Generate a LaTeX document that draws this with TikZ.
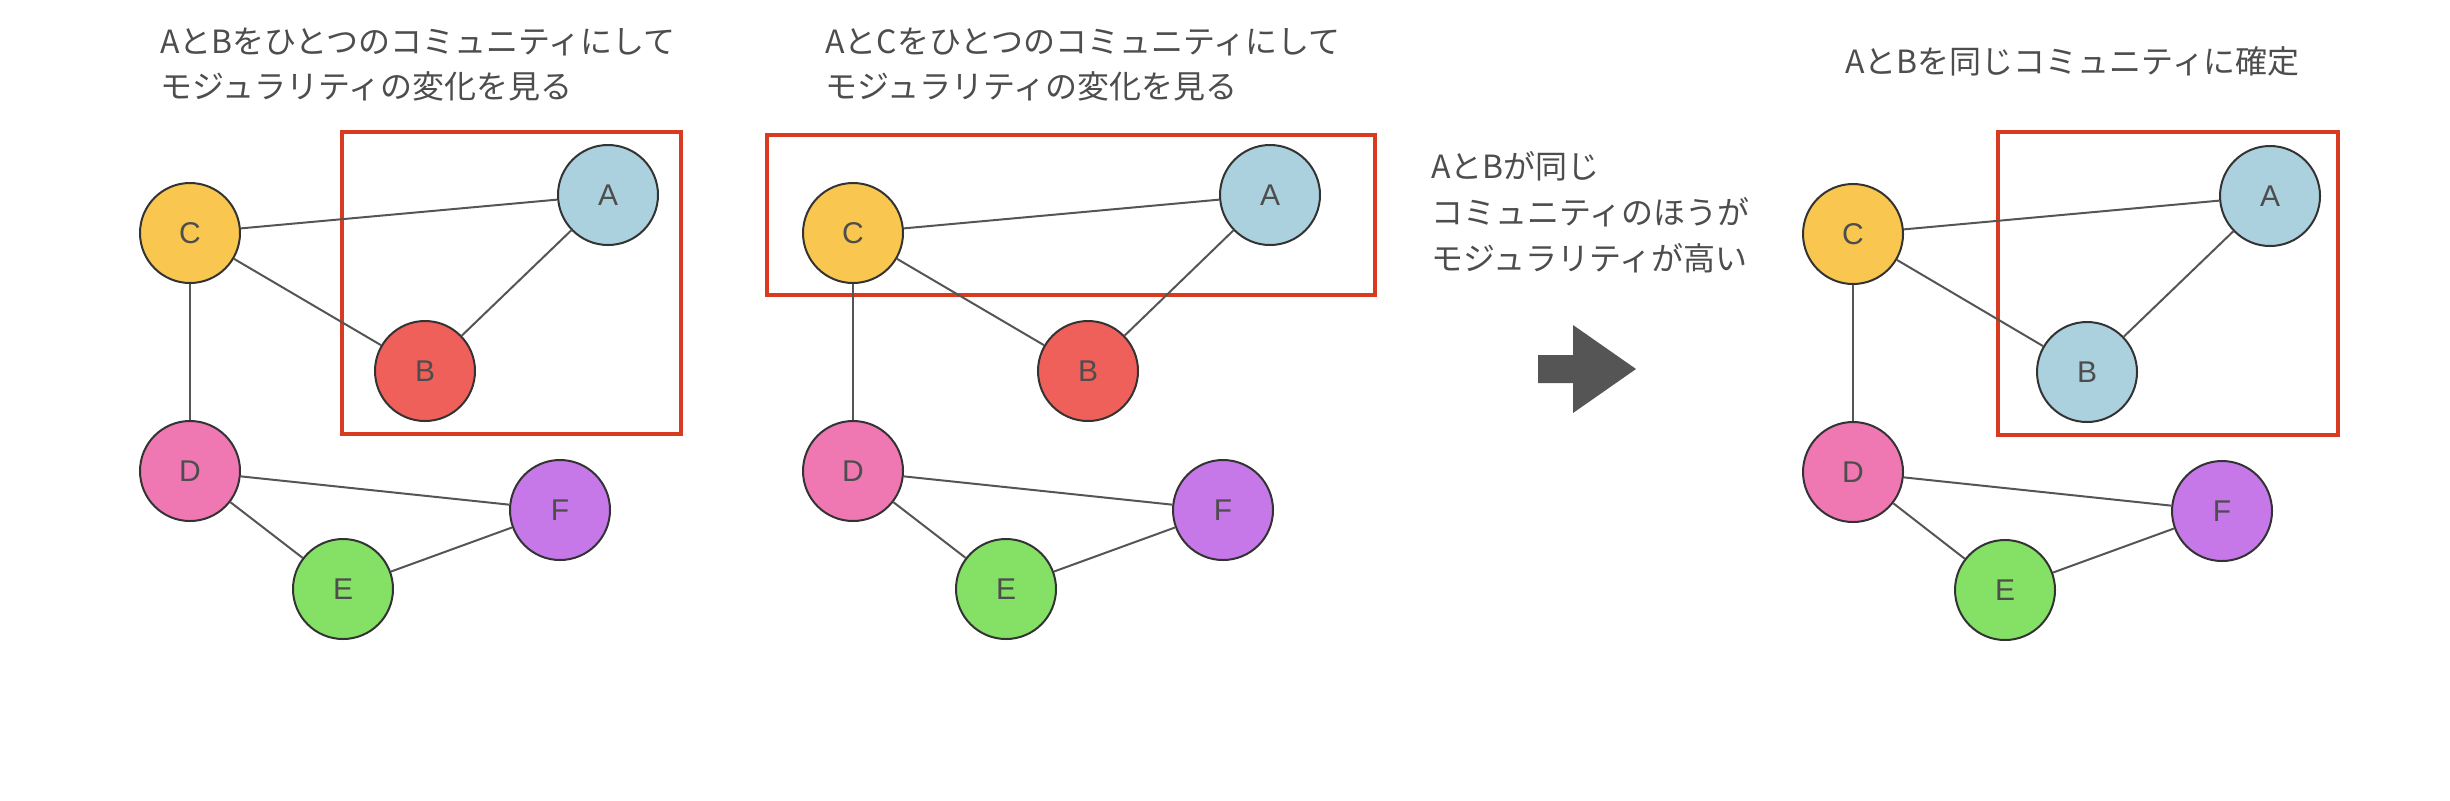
\documentclass[tikz,border=0pt]{standalone}
\usepackage{fontspec}
\setmainfont{Liberation Sans}
\newfontfamily\jpfont{Noto Sans CJK JP}
\definecolor{textgray}{HTML}{4D4D4D}
\definecolor{strokegray}{HTML}{333333}
\definecolor{linkgray}{HTML}{555555}
\definecolor{boxred}{HTML}{D93B20}
\definecolor{nodeA}{HTML}{ABD1DE}
\definecolor{nodeB}{HTML}{F0605A}
\definecolor{nodeC}{HTML}{F9C74F}
\definecolor{nodeD}{HTML}{EF78B3}
\definecolor{nodeE}{HTML}{85E066}
\definecolor{nodeF}{HTML}{C678E8}

\begin{document}
\begin{tikzpicture}[x=0.5pt,y=-0.5pt,vertex/.style={circle,draw=strokegray,line width=1pt,minimum size=50pt,inner sep=0pt,text=textgray,font=\fontsize{15}{18}\selectfont},link/.style={draw=linkgray,line width=1pt},community/.style={draw=boxred,line width=2pt},caption/.style={anchor=base west,align=left,inner sep=0pt,text=textgray,font=\jpfont\fontsize{16}{22.5}\selectfont}]
\useasboundingbox (0,0) rectangle (2450,800);

\node[caption] (title1) at (160,98) {AとBをひとつのコミュニティにして\\モジュラリティの変化を見る};
\draw[community] (342,132) rectangle (681,434);
\node[vertex,fill=nodeA] (a1) at (608,195) {A};
\node[vertex,fill=nodeB] (b1) at (425,371) {B};
\node[vertex,fill=nodeC] (c1) at (190,233) {C};
\node[vertex,fill=nodeD] (d1) at (190,471) {D};
\node[vertex,fill=nodeE] (e1) at (343,589) {E};
\node[vertex,fill=nodeF] (f1) at (560,510) {F};
\draw[link] (c1) -- (a1);
\draw[link] (c1) -- (b1);
\draw[link] (a1) -- (b1);
\draw[link] (c1) -- (d1);
\draw[link] (d1) -- (f1);
\draw[link] (d1) -- (e1);
\draw[link] (e1) -- (f1);

\node[caption] (title2) at (825,98) {AとCをひとつのコミュニティにして\\モジュラリティの変化を見る};
\draw[community] (767,135) rectangle (1375,295);
\node[vertex,fill=nodeA] (a2) at (1270,195) {A};
\node[vertex,fill=nodeB] (b2) at (1088,371) {B};
\node[vertex,fill=nodeC] (c2) at (853,233) {C};
\node[vertex,fill=nodeD] (d2) at (853,471) {D};
\node[vertex,fill=nodeE] (e2) at (1006,589) {E};
\node[vertex,fill=nodeF] (f2) at (1223,510) {F};
\draw[link] (c2) -- (a2);
\draw[link] (c2) -- (b2);
\draw[link] (a2) -- (b2);
\draw[link] (c2) -- (d2);
\draw[link] (d2) -- (f2);
\draw[link] (d2) -- (e2);
\draw[link] (e2) -- (f2);

\node[caption,font=\jpfont\fontsize{16}{23}\selectfont] (reason) at (1431,270) {AとBが同じ\\コミュニティのほうが\\モジュラリティが高い};
\fill[linkgray] (1538,355) -- (1573,355) -- (1573,325) -- (1636,369) -- (1573,413) -- (1573,383) -- (1538,383) -- cycle;

\node[caption] (title3) at (1845,73) {AとBを同じコミュニティに確定};
\draw[community] (1998,132) rectangle (2338,435);
\node[vertex,fill=nodeA] (a3) at (2270,196) {A};
\node[vertex,fill=nodeA] (b3) at (2087,372) {B};
\node[vertex,fill=nodeC] (c3) at (1853,234) {C};
\node[vertex,fill=nodeD] (d3) at (1853,472) {D};
\node[vertex,fill=nodeE] (e3) at (2005,590) {E};
\node[vertex,fill=nodeF] (f3) at (2222,511) {F};
\draw[link] (c3) -- (a3);
\draw[link] (c3) -- (b3);
\draw[link] (a3) -- (b3);
\draw[link] (c3) -- (d3);
\draw[link] (d3) -- (f3);
\draw[link] (d3) -- (e3);
\draw[link] (e3) -- (f3);
\end{tikzpicture}
\end{document}
